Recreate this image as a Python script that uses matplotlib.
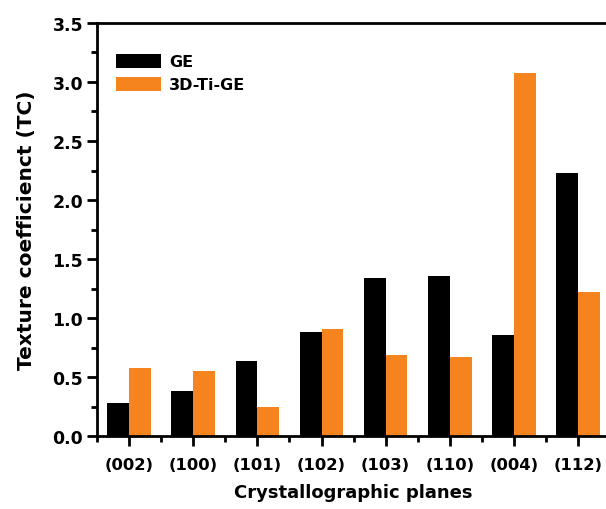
import numpy as np
import matplotlib
matplotlib.use("Agg")
from matplotlib import pyplot as plt
from matplotlib.ticker import MultipleLocator, FixedLocator, FormatStrFormatter

planes = ["(002)", "(100)", "(101)", "(102)", "(103)", "(110)", "(004)", "(112)"]
ge = [0.28, 0.38, 0.64, 0.88, 1.34, 1.36, 0.86, 2.23]
ti_ge = [0.58, 0.55, 0.25, 0.91, 0.69, 0.67, 3.08, 1.22]

plt.rcParams['font.family'] = ['DejaVu Sans']
plt.rcParams['font.weight'] = 'bold'

fig = plt.figure(figsize=(6.06, 5.1), dpi=100)
# axes runs slightly past the right edge, like the cropped original
ax = fig.add_axes([0.160, 0.143, 0.847, 0.810])

x = np.arange(len(planes))
w = 0.34
ax.bar(x - w / 2, ge, w, color="black", label="GE")
ax.bar(x + w / 2, ti_ge, w, color="#f5841f", label="3D-Ti-GE")

ax.set_xlim(-0.5, 7.5)
ax.set_ylim(0, 3.5)
ax.set_xticks(x)
ax.set_xticklabels(planes)
ax.xaxis.set_minor_locator(FixedLocator(np.arange(-0.5, 8, 1)))
ax.yaxis.set_major_locator(MultipleLocator(0.5))
ax.yaxis.set_minor_locator(MultipleLocator(0.25))
ax.yaxis.set_major_formatter(FormatStrFormatter('%.1f'))

for s in ax.spines.values():
    s.set_linewidth(2)
ax.tick_params(which='major', direction='out', length=7, width=2)
ax.tick_params(which='minor', direction='out', length=4, width=2)
ax.tick_params(axis='x', labelsize=11.8, pad=8)
ax.tick_params(axis='y', labelsize=12.5, pad=3)

ax.set_xlabel("Crystallographic planes", fontsize=13, fontweight='bold', labelpad=8)
ax.set_ylabel("Texture coefficienct (TC)", fontsize=14.5, fontweight='bold', labelpad=12)

ax.legend(loc='upper left', bbox_to_anchor=(0.01, 0.96), frameon=False,
          fontsize=11.5, handlelength=2.8, handleheight=1.0, labelspacing=0.45,
          handletextpad=0.5)

fig.savefig("out.png", dpi=100)
